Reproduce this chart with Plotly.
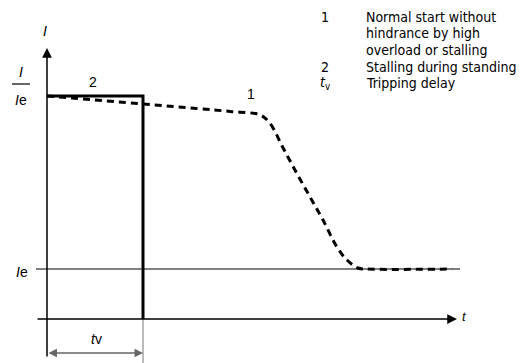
import plotly.graph_objects as go

# Data (time in units of t_v, current in multiples of I_e)
t_normal = [0.0, 1.0, 1.56, 1.91, 2.22, 2.32, 2.46, 2.60, 2.74, 2.875, 3.02, 3.125, 3.24, 3.33, 4.22]
i_normal = [4.46, 4.30, 4.21, 4.15, 4.08, 3.92, 3.42, 2.92, 2.44, 1.98, 1.44, 1.18, 1.02, 1.0, 1.0]
t_stall = [0.0, 1.0, 1.0]
i_stall = [4.46, 4.46, 0.0]
t_v = 1.0
i_e = 1.0
legend_keys = ["1", "", "", "2", "<i>t</i><sub>v</sub>"]
legend_lines = ["Normal start without", "hindrance by high", "overload or stalling",
                "Stalling during standing", "Tripping delay"]
legend_rows_y = [17, 33.5, 50, 66.5, 83]

W, H = 525, 363
X0, Y0, SX, SY = 47, 319, 96.0, 50.0
def tx(px): return (px - X0) / SX
def iy(py): return (Y0 - py) / SY

fig = go.Figure()
fig.add_trace(go.Scatter(x=[tx(36), tx(460)], y=[i_e, i_e], mode="lines",
                         line=dict(color="black", width=1), hoverinfo="skip"))
fig.add_trace(go.Scatter(x=[t_v, t_v], y=[0, iy(363)], mode="lines",
                         line=dict(color="#777", width=1), hoverinfo="skip"))
fig.add_trace(go.Scatter(x=t_stall, y=i_stall, mode="lines",
                         line=dict(color="black", width=3), hoverinfo="skip"))
fig.add_trace(go.Scatter(x=t_normal, y=i_normal, mode="lines", line_shape="spline",
                         line=dict(color="black", width=3, dash="7px,5px"), hoverinfo="skip"))

anns = []
anns.append(dict(x=0, y=iy(48), ax=0, ay=iy(358), xref="x", yref="y", axref="x", ayref="y",
                 text="", showarrow=True, arrowhead=2, arrowsize=1.3, arrowwidth=1.5, arrowcolor="black"))
anns.append(dict(x=tx(457), y=0, ax=tx(36), ay=0, xref="x", yref="y", axref="x", ayref="y",
                 text="", showarrow=True, arrowhead=2, arrowsize=1.3, arrowwidth=1.5, arrowcolor="black"))
anns.append(dict(x=t_v, y=iy(353), ax=0, ay=iy(353), xref="x", yref="y", axref="x", ayref="y",
                 text="", showarrow=True, arrowhead=2, startarrowhead=2, arrowside="end+start",
                 arrowsize=1.3, startarrowsize=1.3, arrowwidth=1.3, arrowcolor="#666"))

def lab(px, py, text, size=14, xanchor="center", family="Liberation Sans, Arial"):
    anns.append(dict(x=px / W, y=1 - py / H, xref="paper", yref="paper", text=text, showarrow=False,
                     xanchor=xanchor, yanchor="middle", borderpad=0,
                     font=dict(size=size, color="black", family=family)))

lab(45, 31, "<i>I</i>")
lab(21, 72, "<i>I</i>")
lab(21, 100, "<i>I</i>e")
lab(93, 82, "2")
lab(251, 94, "1")
lab(22, 272, "<i>I</i>e")
lab(464, 316, "<i>t</i>", size=13)
lab(96, 339, "<i>t</i>v")

narrow = "Liberation Sans Narrow, DejaVu Sans Condensed, Arial Narrow"
for k, txt, yk in zip(legend_keys, legend_lines, legend_rows_y):
    if k:
        lab(325, yk, k, size=14, family=narrow)
    lab(365, yk, txt, size=14, xanchor="left", family=narrow)

fig.update_layout(
    width=W, height=H, margin=dict(l=0, r=0, t=0, b=0),
    paper_bgcolor="white", plot_bgcolor="white", showlegend=False,
    xaxis=dict(range=[tx(0), tx(W)], visible=False, fixedrange=True),
    yaxis=dict(range=[iy(H), iy(0)], visible=False, fixedrange=True),
    annotations=anns,
    shapes=[dict(type="line", xref="x", yref="y", x0=tx(12), x1=tx(30), y0=iy(84), y1=iy(84),
                 line=dict(color="black", width=1.2))],
)
fig.write_html("out.html", config={"displayModeBar": False},
               post_script="document.body.style.margin='0';document.body.style.overflow='hidden';")
